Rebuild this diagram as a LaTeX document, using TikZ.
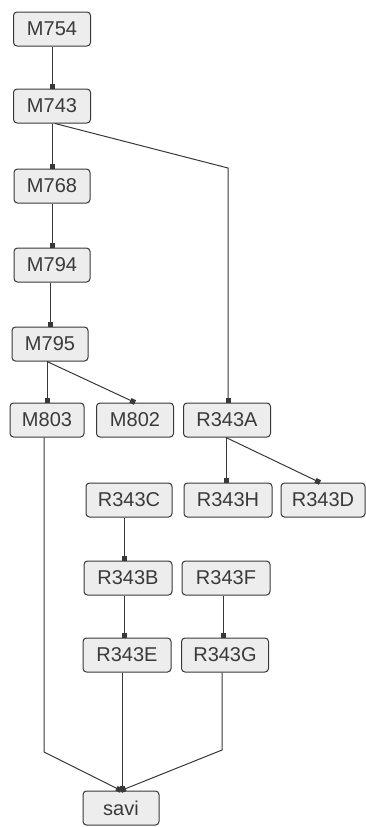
\documentclass[tikz,border=0pt]{standalone}
\usepackage{fontspec}
\setmainfont{Liberation Sans}
\usetikzlibrary{arrows.meta}
\definecolor{edgec}{HTML}{383838}
\definecolor{boxfill}{HTML}{EDEDED}
\definecolor{textc}{HTML}{3A3A3A}
\begin{document}
\begin{tikzpicture}[x=1pt,y=-1pt,
  box/.style={draw=edgec, line width=1pt, fill=boxfill, rounded corners=3.5pt,
    minimum height=34pt, inner sep=0pt, text=textc,
    font=\fontsize{20}{20}\selectfont},
  link/.style={draw=edgec, line width=1pt, -{Square[length=5pt,width=5pt]}}]
\useasboundingbox (0,0) rectangle (366,827);
\node[box, minimum width=77pt] (M754) at (52,29) {M754};
\node[box, minimum width=77pt] (M743) at (52,106) {M743};
\node[box, minimum width=76pt] (M768) at (52,186) {M768};
\node[box, minimum width=76pt] (M794) at (52,265) {M794};
\node[box, minimum width=76pt] (M795) at (50,344) {M795};
\node[box, minimum width=74pt] (M803) at (47,420) {M803};
\node[box, minimum width=77pt] (M802) at (135,420) {M802};
\node[box, minimum width=87pt] (R343A) at (227,420) {R343A};
\node[box, minimum width=86pt] (R343C) at (129,500) {R343C};
\node[box, minimum width=88pt] (R343H) at (228,500) {R343H};
\node[box, minimum width=84pt] (R343D) at (323,500) {R343D};
\node[box, minimum width=88pt] (R343B) at (128,578) {R343B};
\node[box, minimum width=88pt] (R343F) at (226,578) {R343F};
\node[box, minimum width=88pt] (R343E) at (127,655) {R343E};
\node[box, minimum width=87pt] (R343G) at (225,655) {R343G};
\node[box, minimum width=76pt] (savi) at (121,808) {savi};
\coordinate (b1) at (228,168);
\coordinate (b2) at (44,752);
\coordinate (b3) at (222,750);
\draw[link] (M754.south) -- (M743.north);
\draw[link] (M743.south) -- (M768.north);
\draw[link] ([xshift=3pt]M743.south) -- (b1) -- (b1 |- R343A.north);
\draw[link] (M768.south) -- (M794.north);
\draw[link] ([xshift=-2pt]M794.south) -- ([xshift=-2pt]M794.south |- M795.north);
\draw[link] ([xshift=-3pt]M795.south) -- ([xshift=-3pt]M795.south |- M803.north);
\draw[link] ([xshift=-3pt]M795.south) -- (M802.north);
\draw[link] ([xshift=-1pt]R343A.south) -- ([xshift=-1pt]R343A.south |- R343H.north);
\draw[link] ([xshift=-1pt]R343A.south) -- ([xshift=-3pt]R343D.north);
\draw[link] ([xshift=-5pt]R343C.south) -- ([xshift=-5pt]R343C.south |- R343B.north);
\draw[link] ([xshift=-4pt]R343B.south) -- ([xshift=-4pt]R343B.south |- R343E.north);
\draw[link] ([xshift=-3pt]R343F.south) -- ([xshift=-3pt]R343F.south |- R343G.north);
\draw[link] ([xshift=-5pt]R343E.south) -- ([xshift=-5pt]R343E.south |- savi.north);
\draw[link] (b2 |- M803.south) -- (b2) -- (savi.north);
\draw[link] (b3 |- R343G.south) -- (b3) -- (savi.north);
\end{tikzpicture}
\end{document}
